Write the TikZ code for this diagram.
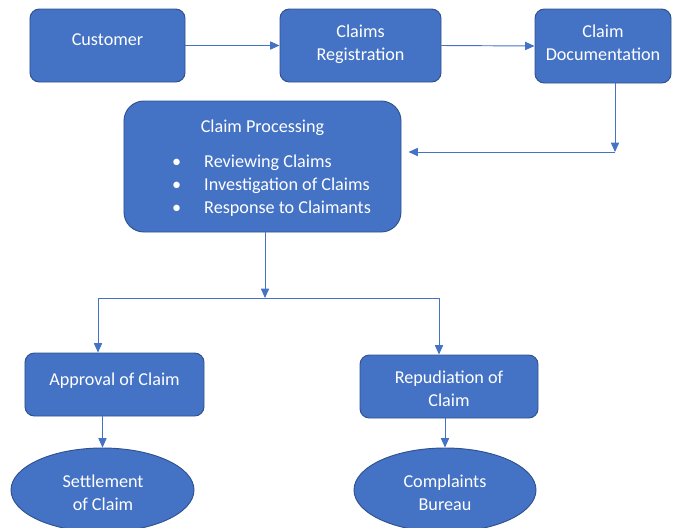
\documentclass[tikz,border=0pt]{standalone}
\usepackage{fontspec}
\setmainfont{Carlito}
\usepackage{xcolor}
\usepackage{tikz}
\usetikzlibrary{arrows.meta,shapes.geometric,positioning}
\definecolor{offblue}{HTML}{4472C4}
\definecolor{offedge}{HTML}{2F528F}
\tikzset{
  % Blue step box
  pbox/.style={rectangle, rounded corners=#1, draw=offedge, line width=0.8pt,
               fill=offblue, inner sep=0pt},
  pbox/.default=8pt,
  % Outcome ellipse
  ebox/.style={ellipse, draw=offedge, line width=0.8pt, fill=offblue, inner sep=0pt},
  % White text on the boxes
  txt/.style={text=white, align=center, inner sep=0pt,
              font=\fontsize{15.5}{19.6}\selectfont},
  % Connectors
  arr/.style={-{Triangle[length=8pt,width=7pt]}, line width=0.8pt, draw=offblue},
  lnk/.style={line width=0.8pt, draw=offblue},
}

\begin{document}
\begin{tikzpicture}[x=0.03cm,y=-0.03cm]
    \useasboundingbox (0,0) rectangle (683,527);

    % ── Top row ─────────────────────────────────────────────
    \node[pbox, minimum width=4.65cm, minimum height=2.19cm] (cust) at (107.5,45.5) {};
    \node[txt] (custtxt) at (107.5,40) {Customer};
    \node[pbox, minimum width=4.83cm, minimum height=2.19cm] (reg) at (360.5,45.5) {};
    \node[txt] (regtxt) at (360.5,44) {Claims\\Registration};
    \node[pbox, minimum width=4.08cm, minimum height=2.22cm] (doc) at (603,46) {};
    \node[txt] (doctxt) at (603,43) {Claim\\Documentation};

    % ── Processing box ─────────────────────────────────────
    \node[pbox=17pt, minimum width=8.31cm, minimum height=3.93cm] (proc) at (262.5,166.5) {};
    \node[txt] (proctitle) at (262.5,127.5) {Claim Processing};
    \node[txt, align=left, anchor=west] (proclist) at (172,185.5)
          {\makebox[0.96cm][l]{\textbullet}Reviewing Claims\\
           \makebox[0.96cm][l]{\textbullet}Investigation of Claims\\
           \makebox[0.96cm][l]{\textbullet}Response to Claimants};

    % ── Decisions ──────────────────────────────────────────
    \node[pbox, minimum width=5.37cm, minimum height=1.89cm] (appr) at (114.5,384.5) {};
    \node[txt] (apprtxt) at (114.5,380.5) {Approval of Claim};
    \node[pbox, minimum width=5.34cm, minimum height=1.89cm] (repu) at (449,386.5) {};
    \node[txt] (reputxt) at (449,389) {Repudiation of\\Claim};

    % ── Outcomes ───────────────────────────────────────────
    \node[ebox, minimum width=5.49cm, minimum height=2.52cm] (settle) at (102.5,490) {};
    \node[txt] (settletxt) at (103,493) {Settlement\\of Claim};
    \node[ebox, minimum width=5.46cm, minimum height=2.52cm] (bureau) at (445,490) {};
    \node[txt] (bureautxt) at (445,493) {Complaints\\Bureau};

    % ── Connectors ─────────────────────────────────────────
    \coordinate (turn) at (615,152);
    \coordinate (split) at (265,298);
    \coordinate (lft) at (98,298);
    \coordinate (rgt) at (439,298);

    \draw[arr] (cust.east) -- (reg.west);
    \draw[arr] (reg.east) -- (doc.west);
    \draw[arr] (turn |- doc.south) -- (turn);
    \draw[arr, shorten >=0.21cm] (turn) -- (turn -| proc.east);
    \draw[arr] (split |- proc.south) -- (split);
    \draw[lnk] (lft) -- (rgt);
    \draw[arr] (lft) -- (lft |- appr.north);
    \draw[arr] (rgt) -- (rgt |- repu.north);
    \draw[arr] (settle.north |- appr.south) -- (settle.north);
    \draw[arr] (bureau.north |- repu.south) -- (bureau.north);

  \end{tikzpicture}
\end{document}
